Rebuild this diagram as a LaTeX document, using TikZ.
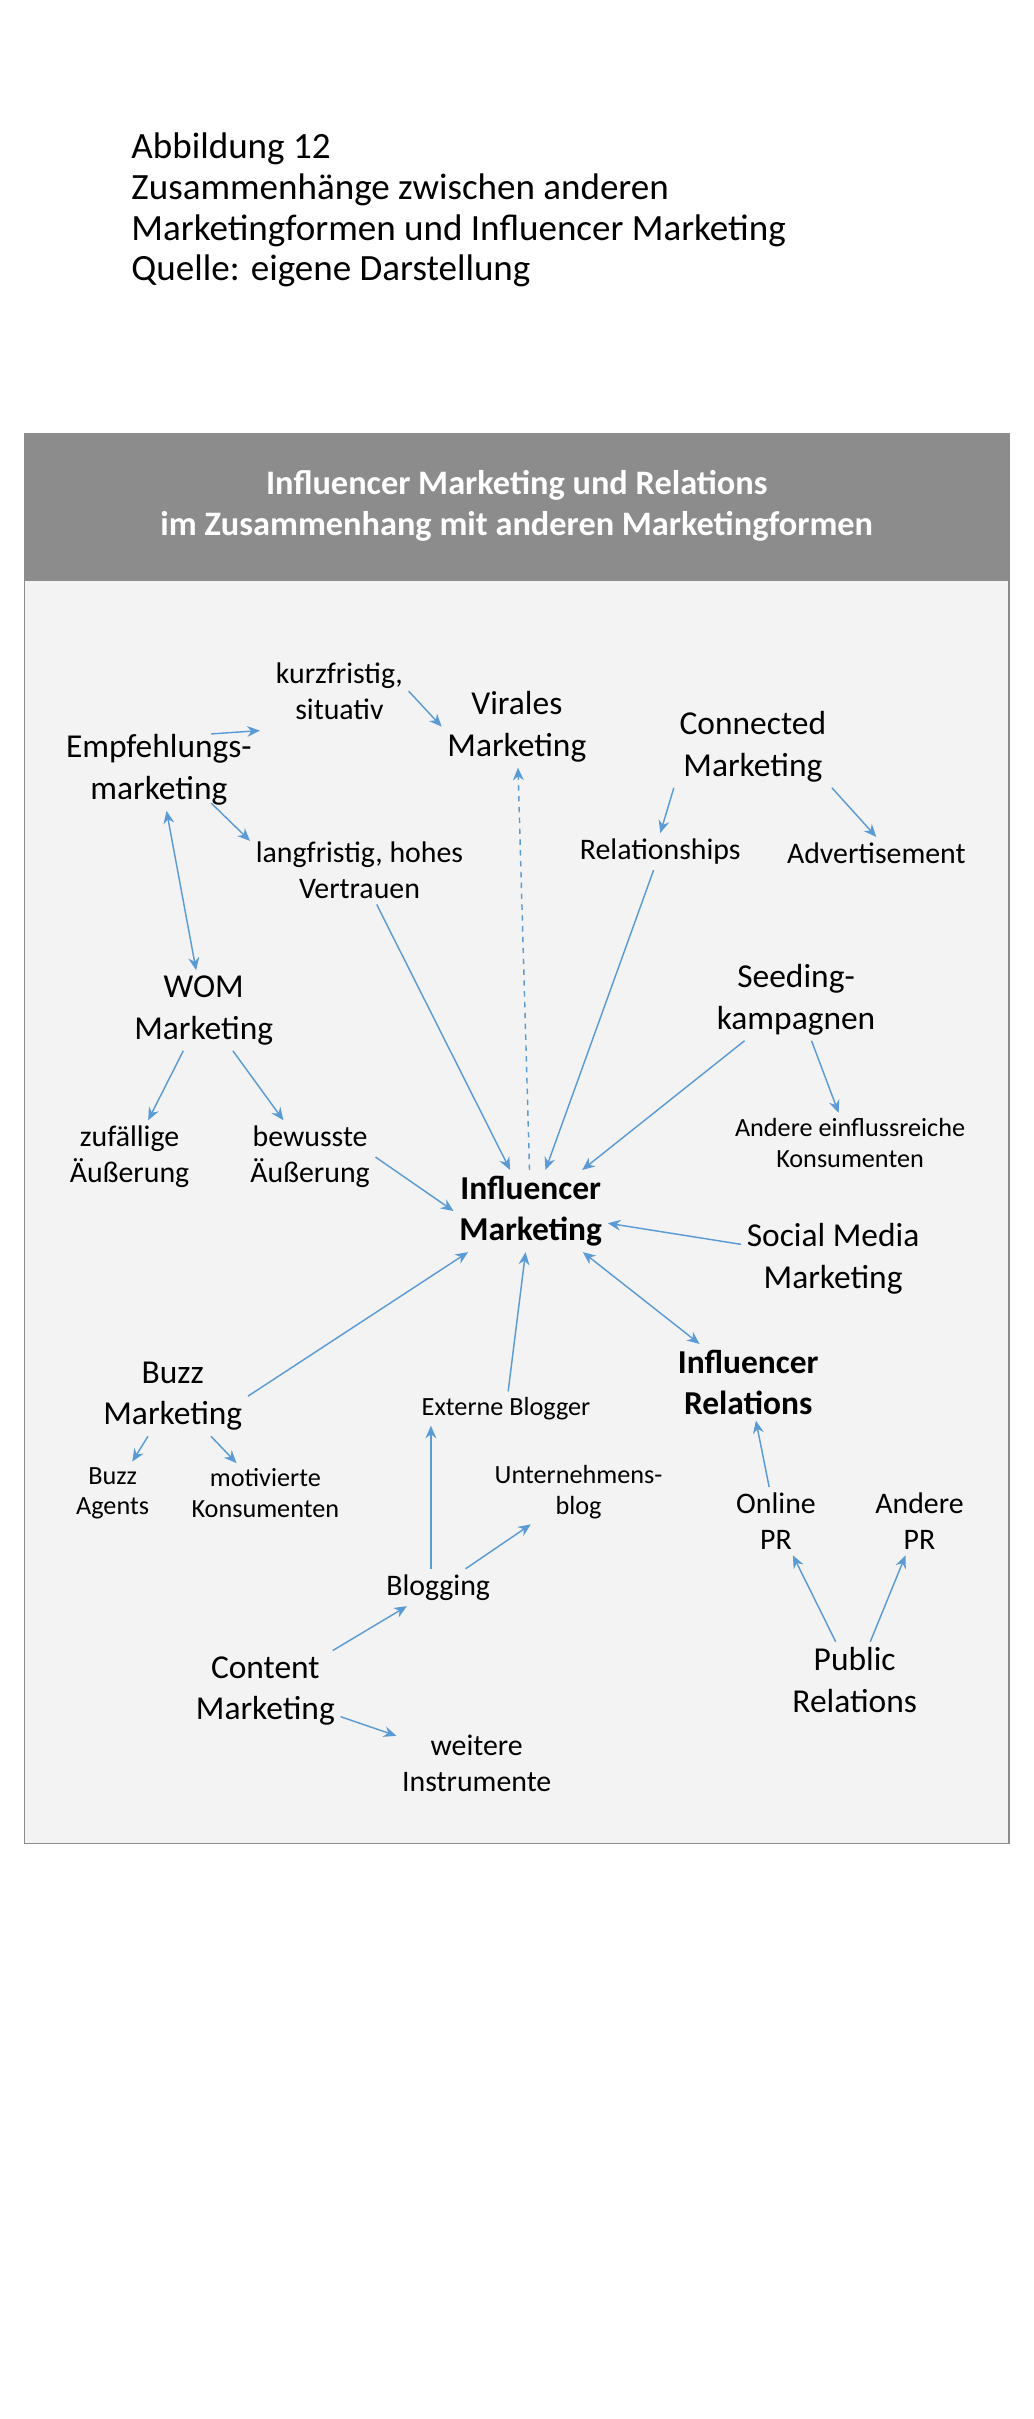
\documentclass[tikz,border=0pt]{standalone}
\usepackage{fontspec}
\setmainfont{Carlito}
\usetikzlibrary{arrows.meta}
\definecolor{arrowblue}{HTML}{5B9BD5}
\definecolor{headgray}{HTML}{8C8C8C}
\definecolor{panelgray}{HTML}{F3F3F3}
\tikzset{
    big/.style={align=center,font=\fontsize{18.5}{23}\selectfont,inner sep=3pt},
    mid/.style={align=center,font=\fontsize{16.5}{20}\selectfont,inner sep=3pt},
    small/.style={align=center,font=\fontsize{14.5}{17}\selectfont,inner sep=3pt},
    link/.style={draw=arrowblue,thick,-{Stealth[length=7pt,width=6pt]}},
}
\begin{document}
\begin{tikzpicture}[x=0.03cm,y=-0.03cm]
    \useasboundingbox (0,0) rectangle (670,1568);
    % Caption
    \node[anchor=north west,align=left,font=\fontsize{20.5}{22.5}\selectfont,inner sep=0pt] (caption) at (85,86)
        {Abbildung 12\\Zusammenhänge zwischen anderen\\Marketingformen und Influencer Marketing\\Quelle: eigene Darstellung};

    % Panel
    \filldraw[fill=panelgray,draw=gray!90,thick] (16,376) rectangle (654,1195);
    \fill[headgray] (16,281) rectangle (654,376);
    \draw[gray!90,thick] (16,281) rectangle (654,1195);
    \node[align=center,text=white,font=\bfseries\fontsize{19}{23}\selectfont] (head) at (335,328)
        {Influencer Marketing und Relations\\im Zusammenhang mit anderen Marketingformen};

    % Nodes
    \node[mid] (kurz) at (220,448) {kurzfristig,\\situativ};
    \node[big] (viral) at (335,471) {Virales\\Marketing};
    \node[big] (conn) at (488,484) {Connected\\Marketing};
    \node[big] (empf) at (103,499) {Empfehlungs-\\marketing};
    \node[mid] (lang) at (233,564) {langfristig, hohes\\Vertrauen};
    \node[mid] (rel) at (428,552) {Relationships};
    \node[mid] (adv) at (568,553) {Advertisement};
    \node[big] (wom) at (132,655) {WOM\\Marketing};
    \node[big] (seed) at (516,648) {Seeding-\\kampagnen};
    \node[mid] (zuf) at (84,750) {zufällige\\Äußerung};
    \node[mid] (bew) at (201,750) {bewusste\\Äußerung};
    \node[small] (andk) at (551,741) {Andere einflussreiche\\Konsumenten};
    \node[big,font=\bfseries\fontsize{18.5}{23}\selectfont] (infm) at (344,785) {Influencer\\Marketing};
    \node[big] (social) at (540,816) {Social Media\\Marketing};
    \node[big] (buzz) at (112,905) {Buzz\\Marketing};
    \node[big,font=\bfseries\fontsize{18.5}{23}\selectfont] (infr) at (485,896) {Influencer\\Relations};
    \node[small] (ext) at (328,913) {Externe Blogger};
    \node[small] (agents) at (73,968) {Buzz\\Agents};
    \node[small] (moti) at (172,968) {motivierte\\Konsumenten};
    \node[small] (ublog) at (375,967) {Unternehmens-\\blog};
    \node[mid] (opr) at (503,986) {Online\\PR};
    \node[mid] (apr) at (596,986) {Andere\\PR};
    \node[mid] (blog) at (284,1029) {Blogging};
    \node[big] (content) at (172,1096) {Content\\Marketing};
    \node[big] (pr) at (554,1089) {Public\\Relations};
    \node[mid] (weit) at (309,1143) {weitere\\Instrumente};

    % Connectors
    \draw[link] ([xshift=-0.9cm,yshift=-0.1cm]empf.north east) -- ([xshift=-0.2cm,yshift=-0.1cm]kurz.south west);
    \draw[link] (kurz.east) -- (viral.west);
    \draw[link] ([xshift=-0.9cm,yshift=0.15cm]empf.south east) -- ([yshift=-0.1cm]lang.north west);
    \draw[link,{Stealth[length=7pt,width=6pt]}-{Stealth[length=7pt,width=6pt]}] (empf) -- (wom);
    \draw[link] (conn.south west) -- (rel.north);
    \draw[link] (conn.south east) -- (adv.north);
    \draw[link] (lang) -- (infm);
    \draw[link] (rel) -- (infm);
    \draw[link,dashed] (infm) -- (viral);
    \draw[link] (wom) -- (zuf);
    \draw[link] (wom) -- (bew);
    \draw[link] (bew.east) -- (infm.west);
    \draw[link] (seed) -- (infm);
    \draw[link] (seed) -- (andk);
    \draw[link] (social) -- (infm);
    \draw[link,{Stealth[length=7pt,width=6pt]}-{Stealth[length=7pt,width=6pt]}] (infm) -- (infr);
    \draw[link] (buzz.east) -- (infm);
    \draw[link] (buzz) -- (agents);
    \draw[link] (buzz) -- (moti);
    \draw[link] (ext) -- (infm);
    \draw[link] ([xshift=-4pt]blog.north) -- ([xshift=-4pt]blog.north |- ext.south);
    \draw[link] (blog) -- (ublog);
    \draw[link] (content) -- (blog);
    \draw[link] (content) -- (weit);
    \draw[link] (opr) -- (infr);
    \draw[link] (pr) -- (opr);
    \draw[link] (pr) -- (apr);
\end{tikzpicture}
\end{document}
